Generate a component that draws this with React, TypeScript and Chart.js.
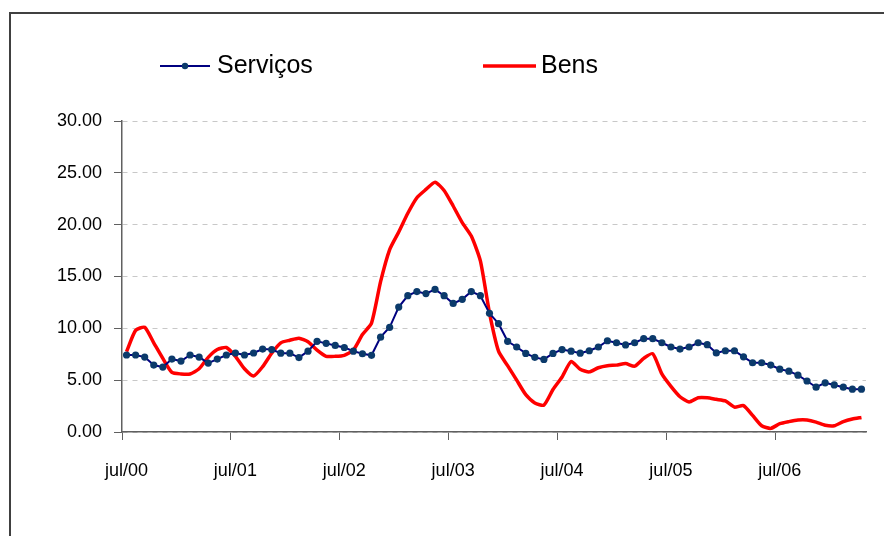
import React, { useEffect, useRef } from 'react';
import { Chart, registerables } from 'chart.js';

Chart.register(...registerables);

// Monthly categories: jul/00 .. apr/07
const monthNames = ['jan', 'fev', 'mar', 'abr', 'mai', 'jun', 'jul', 'ago', 'set', 'out', 'nov', 'dez'];
const categories: string[] = [];
for (let k = 0; k < 82; k++) {
  const m = (6 + k) % 12;
  const y = Math.floor((6 + k) / 12);
  categories.push(monthNames[m] + '/' + String(y).padStart(2, '0'));
}

const xTickLabels = ['jul/00', 'jul/01', 'jul/02', 'jul/03', 'jul/04', 'jul/05', 'jul/06'];

const servicos = [
  7.43, 7.43, 7.23, 6.46, 6.26, 7.03, 6.84, 7.43, 7.23, 6.65,
  7.03, 7.43, 7.62, 7.43, 7.62, 8.0, 7.95, 7.6, 7.6, 7.18,
  7.8, 8.75, 8.55, 8.35, 8.15, 7.8, 7.55, 7.4, 9.15, 10.1,
  12.05, 13.15, 13.55, 13.35, 13.75, 13.15, 12.4, 12.8, 13.55, 13.15,
  11.45, 10.45, 8.75, 8.2, 7.58, 7.2, 7.0, 7.58, 7.95, 7.8,
  7.6, 7.84, 8.2, 8.8, 8.61, 8.4, 8.61, 9.0, 9.0, 8.61,
  8.2, 8.0, 8.2, 8.61, 8.42, 7.63, 7.84, 7.84, 7.25, 6.68,
  6.68, 6.46, 6.06, 5.87, 5.48, 4.92, 4.32, 4.74, 4.54, 4.32,
  4.13, 4.13,
];

const bens = [
  7.75, 9.8, 10.1, 8.6, 7.1, 5.75, 5.6, 5.6, 6.1, 7.2,
  7.95, 8.15, 7.3, 6.1, 5.4, 6.3, 7.6, 8.6, 8.85, 9.05,
  8.7, 7.9, 7.3, 7.3, 7.4, 7.9, 9.4, 10.5, 14.5, 17.6,
  19.3, 21.1, 22.6, 23.4, 24.1, 23.3, 21.8, 20.2, 18.9, 16.5,
  11.5, 7.8, 6.4, 5.0, 3.6, 2.8, 2.6, 4.1, 5.3, 6.8,
  6.05, 5.8, 6.2, 6.4, 6.45, 6.6, 6.35, 7.1, 7.55, 5.6,
  4.4, 3.4, 2.9, 3.3, 3.3, 3.15, 3.0, 2.4, 2.55, 1.6,
  0.6, 0.35, 0.8, 1.0, 1.15, 1.15, 0.95, 0.65, 0.6, 1.0,
  1.25, 1.4,
];

const FONT = "'Liberation Sans', Arial, sans-serif";
const AXIS_COLOR = '#606060';

const legendPos = [
  { x0: 160, x1: 210, textX: 217 },
  { x0: 483, x1: 536, textX: 541 },
];

const frameLegendPlugin = {
  id: 'frameLegend',
  beforeDraw(chart: any) {
    const ctx = chart.ctx;
    ctx.save();
    ctx.fillStyle = '#ffffff';
    ctx.fillRect(0, 0, chart.width, chart.height);
    ctx.restore();
  },
  afterDraw(chart: any) {
    const ctx = chart.ctx;
    ctx.save();
    // outer frame (cut off on the right and bottom)
    ctx.strokeStyle = '#404040';
    ctx.lineWidth = 2;
    ctx.beginPath();
    ctx.moveTo(10, chart.height + 10);
    ctx.lineTo(10, 13);
    ctx.lineTo(chart.width + 10, 13);
    ctx.stroke();

    // legend
    const ly = 66;
    chart.data.datasets.forEach((ds: any, i: number) => {
      const p = legendPos[i];
      ctx.strokeStyle = ds.borderColor;
      ctx.lineWidth = ds.borderWidth;
      ctx.beginPath();
      ctx.moveTo(p.x0, ly);
      ctx.lineTo(p.x1, ly);
      ctx.stroke();
      if (ds.pointRadius > 0) {
        ctx.fillStyle = ds.pointBackgroundColor;
        ctx.beginPath();
        ctx.arc((p.x0 + p.x1) / 2, ly, 3.2, 0, Math.PI * 2);
        ctx.fill();
      }
      ctx.fillStyle = '#000000';
      ctx.font = `25px ${FONT}`;
      ctx.textBaseline = 'alphabetic';
      ctx.textAlign = 'left';
      ctx.fillText(ds.label, p.textX, 72.5);
    });
    ctx.restore();
  },
};

export default function App() {
  const ref = useRef<HTMLCanvasElement>(null);

  useEffect(() => {
    const canvas = ref.current;
    if (!canvas) return;
    const chart = new Chart(canvas, {
      type: 'line',
      data: {
        labels: categories,
        datasets: [
          {
            label: 'Serviços',
            data: servicos.map((v, i) => ({ x: i + 0.5, y: v })),
            borderColor: '#000080',
            borderWidth: 2,
            pointRadius: 3.6,
            pointBackgroundColor: '#0b3a6b',
            pointBorderWidth: 0,
            tension: 0,
          },
          {
            label: 'Bens',
            data: bens.map((v, i) => ({ x: i + 0.5, y: v })),
            borderColor: '#ff0000',
            borderWidth: 3.5,
            pointRadius: 0,
            tension: 0.2,
          },
        ],
      } as any,
      options: {
        animation: false,
        responsive: false,
        events: [],
        layout: { padding: { top: 121, right: 18, left: 0, bottom: 0 } },
        plugins: {
          legend: { display: false },
          tooltip: { enabled: false },
        },
        scales: {
          x: {
            type: 'linear',
            min: 0,
            max: categories.length,
            afterFit: (s: any) => {
              s.height = 104;
            },
            afterBuildTicks: (s: any) => {
              s.ticks = xTickLabels.map((_, k) => ({ value: k * 12 }));
            },
            grid: {
              drawOnChartArea: false,
              drawTicks: true,
              tickLength: 8,
              tickColor: AXIS_COLOR,
              tickWidth: 1,
            },
            border: { color: AXIS_COLOR, width: 1.5 },
            ticks: {
              autoSkip: false,
              maxRotation: 0,
              minRotation: 0,
              labelOffset: 4.5,
              padding: 20,
              color: '#000000',
              font: { family: FONT, size: 18 },
              callback: (_v: any, i: number) => xTickLabels[i],
            },
          },
          y: {
            min: 0,
            max: 30,
            afterFit: (s: any) => {
              s.width = 122;
            },
            grid: {
              color: '#c8c8c8',
              lineWidth: 1,
              tickColor: AXIS_COLOR,
              tickLength: 8,
              tickWidth: 1,
            },
            border: { color: AXIS_COLOR, width: 1.5, dash: [5, 5] },
            ticks: {
              stepSize: 5,
              padding: 12,
              color: '#000000',
              font: { family: FONT, size: 18 },
              callback: (v: any) => Number(v).toFixed(2),
            },
          },
        },
      } as any,
      plugins: [frameLegendPlugin],
    });
    return () => chart.destroy();
  }, []);

  return (
    <div
      style={{
        position: 'fixed',
        left: 0,
        top: 0,
        width: 884,
        height: 536,
        background: '#ffffff',
        overflow: 'hidden',
      }}
    >
      <canvas ref={ref} width={884} height={536} style={{ display: 'block', width: 884, height: 536 }} />
    </div>
  );
}
